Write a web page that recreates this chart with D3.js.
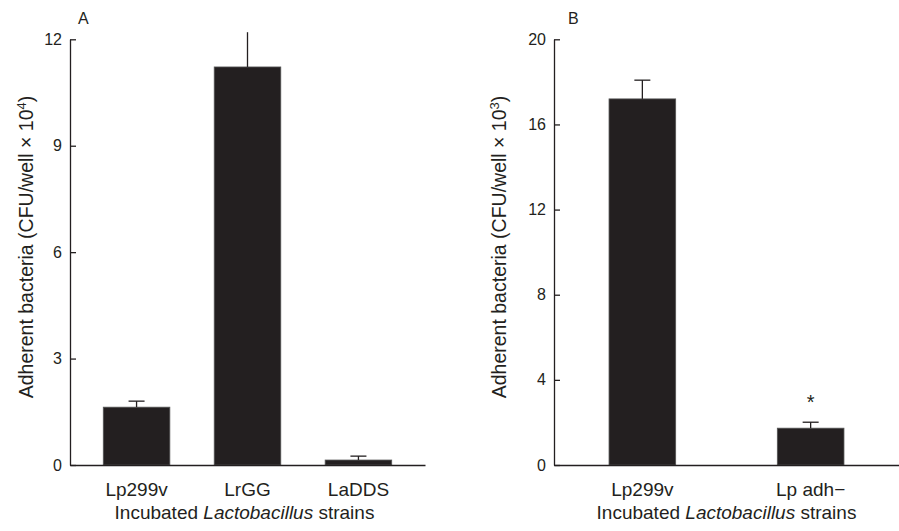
<!DOCTYPE html>
<html><head><meta charset="utf-8">
<script src="https://cdn.jsdelivr.net/npm/d3@7"></script>
<style>
html,body{margin:0;padding:0;background:#fff;}
svg{display:block;font-family:"Liberation Sans",Arial,sans-serif;}
</style></head>
<body>
<svg id="chart" width="899" height="531"></svg>
<script>
// Panel A data
const categoriesA = ["Lp299v", "LrGG", "LaDDS"];
const meansA = [1.63, 11.22, 0.14];
const errorsA = [0.17, 0.98, 0.11];
const ticksA = [0, 3, 6, 9, 12];
// Panel B data
const categoriesB = ["Lp299v", "Lp adh\u2212"];
const meansB = [17.2, 1.73];
const errorsB = [0.88, 0.28];
const ticksB = [0, 4, 8, 12, 16, 20];
const significantB = [false, true];

const ink = "#231f20";
const svg = d3.select("#chart");

function panel(cfg) {
  const g = svg.append("g");
  const x = d3.scaleBand().domain(cfg.cats).range([cfg.x0, cfg.x1])
    .paddingInner(cfg.pi).paddingOuter(cfg.po);
  const y = d3.scaleLinear().domain([0, cfg.max]).range([465, 39.3]);

  // bars
  g.selectAll("rect.bar").data(cfg.cats).join("rect")
    .attr("x", d => x(d)).attr("width", x.bandwidth())
    .attr("y", (d, i) => y(cfg.means[i]))
    .attr("height", (d, i) => y(0) - y(cfg.means[i]))
    .attr("fill", ink).attr("stroke", "#555").attr("stroke-width", 0.8);

  // error bars
  const cap = 16;
  cfg.cats.forEach((d, i) => {
    const cx = x(d) + x.bandwidth() / 2;
    const top = cfg.means[i] + cfg.errs[i];
    g.append("line").attr("x1", cx).attr("x2", cx)
      .attr("y1", y(cfg.means[i])).attr("y2", y(top))
      .attr("stroke", ink).attr("stroke-width", 1.3);
    if (top <= cfg.max) {
      g.append("line").attr("x1", cx - cap / 2).attr("x2", cx + cap / 2)
        .attr("y1", y(top)).attr("y2", y(top))
        .attr("stroke", ink).attr("stroke-width", 1.3);
    }
    if (cfg.sig && cfg.sig[i]) {
      g.append("text").attr("x", cx).attr("y", y(top) - 13)
        .attr("text-anchor", "middle").attr("font-size", 20)
        .attr("fill", ink).text("*");
    }
  });

  // y axis
  const ya = g.append("g").attr("transform", `translate(${cfg.x0},0)`)
    .call(d3.axisLeft(y).tickValues(cfg.ticks).tickSizeInner(-6).tickSizeOuter(0).tickPadding(8));
  ya.select(".domain").attr("stroke", ink).attr("stroke-width", 1.3);
  ya.selectAll(".tick line").attr("stroke", ink).attr("stroke-width", 1.3);
  ya.selectAll(".tick text").attr("font-size", 16).attr("fill", ink)
    .attr("font-family", "Liberation Sans, Arial, sans-serif");

  // x axis
  const xa = g.append("g").attr("transform", "translate(0,465)")
    .call(d3.axisBottom(x).tickSize(0).tickPadding(18));
  xa.select(".domain").attr("stroke", ink).attr("stroke-width", 1.3);
  xa.selectAll(".tick text").attr("font-size", 19).attr("fill", ink)
    .attr("font-family", "Liberation Sans, Arial, sans-serif");

  // x title
  const xt = g.append("text").attr("x", (cfg.x0 + cfg.x1) / 2 - (cfg.titleShift || 0)).attr("y", 519)
    .attr("text-anchor", "middle").attr("font-size", 19).attr("fill", ink);
  xt.append("tspan").text("Incubated ");
  xt.append("tspan").attr("font-style", "italic").text("Lactobacillus");
  xt.append("tspan").text(" strains");

  // y title
  const yt = g.append("text")
    .attr("transform", `translate(${cfg.ylabX},247) rotate(-90)`)
    .attr("text-anchor", "middle").attr("font-size", 19.5).attr("fill", ink);
  yt.append("tspan").text("Adherent bacteria (CFU/well \u00d7 10");
  yt.append("tspan").attr("font-size", 13).attr("dy", -7).text(cfg.exp);
  yt.append("tspan").attr("dy", 7).text(")");

  // panel letter
  g.append("text").attr("x", cfg.letterX).attr("y", 24)
    .attr("font-size", 16).attr("fill", ink).text(cfg.letter);
}

panel({cats: categoriesA, means: meansA, errs: errorsA, ticks: ticksA, max: 12,
  x0: 70, x1: 425, pi: 0.4, po: 0.3, ylabX: 33, exp: "4", letter: "A", letterX: 78, titleShift: 3});
panel({cats: categoriesB, means: meansB, errs: errorsB, ticks: ticksB, max: 20,
  x0: 554, x1: 899, pi: 0.604, po: 0.327, ylabX: 506, exp: "3", letter: "B", letterX: 568,
  sig: significantB});
</script>
</body></html>
